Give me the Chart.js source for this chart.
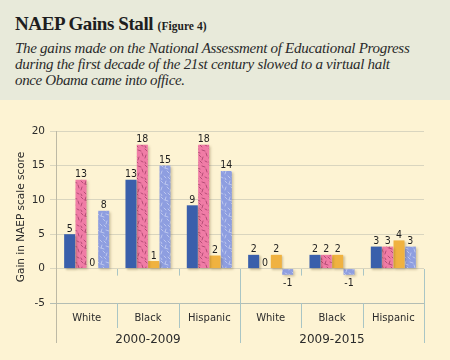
<!DOCTYPE html>
<html><head><meta charset="utf-8">
<script src="https://cdn.jsdelivr.net/npm/chart.js@4.4.0/dist/chart.umd.min.js"></script>
<style>
html,body{margin:0;padding:0;}
body{width:450px;height:360px;background:#fdf3d3;position:relative;overflow:hidden;}
#hdr{position:absolute;left:0;top:0;width:450px;height:100px;background:#e8eada;}
.t{position:absolute;left:15px;white-space:nowrap;color:#1e1e1e;line-height:1;font-family:"Liberation Serif",serif;}
.sub{font-style:italic;color:#2a2a2a;}
#wrap{position:absolute;left:0;top:100px;width:450px;height:260px;}
</style></head><body>
<div id="hdr">
  <div class="t" id="ttl"><span id="t1" style="font-weight:bold">NAEP Gains Stall </span><span id="t2" style="font-weight:bold">(Figure 4)</span></div>
  <div class="t sub" id="s1">The gains made on the National Assessment of Educational Progress</div>
  <div class="t sub" id="s2">during the first decade of the 21st century slowed to a virtual halt</div>
  <div class="t sub" id="s3">once Obama came into office.</div>
</div>
<div id="wrap"><canvas id="c" width="450" height="260"></canvas></div>
<script>
// ---- data ----
const categories = ['White', 'Black', 'Hispanic', 'White', 'Black', 'Hispanic'];
const periods = ['2000-2009', '2009-2015'];
const seriesBlue   = [5, 12.9, 9.2, 2, 2, 3.2];
const seriesPink   = [12.9, 18, 18, 0, 2, 3.2];
const seriesOrange = [0, 1.1, 1.9, 2, 2, 4.1];
const seriesPurple = [8.4, 15, 14.2, -0.9, -0.9, 3.2];
const yMin = -5, yMax = 20, yStep = 5;
const yTitle = 'Gain in NAEP scale score';

// ---- header text fitting ----
const mctx = document.createElement('canvas').getContext('2d');
function fitLine(el, style, size, target, baseline){
  mctx.font = style + ' ' + size + 'px "Liberation Serif"';
  const txt = el.textContent;
  const w = mctx.measureText(txt).width;
  const ls = (target - w) / (txt.length - 1);
  el.style.fontSize = size + 'px';
  el.style.letterSpacing = ls.toFixed(3) + 'px';
  if (baseline !== undefined) el.style.top = (baseline - 0.8375 * size) + 'px';
}
const t1 = document.getElementById('t1'), t2 = document.getElementById('t2');
fitLine(t1, 'bold', 19, 144);
fitLine(t2, 'bold', 11.5, 49);
document.getElementById('ttl').style.top = (30 - 0.8375 * 19) + 'px';
fitLine(document.getElementById('s1'), 'italic', 15, 395, 54);
fitLine(document.getElementById('s2'), 'italic', 15, 375, 70);
fitLine(document.getElementById('s3'), 'italic', 15, 170, 86);

// ---- patterns ----
const segs = [[1,1,3,3],[6,1,5,4],[10,2,13,3],[14,5,15,8],[2,7,1,10],[7,7,9,9],[11,9,10,12],[4,12,6,14],[8,13,10,15],[13,13,15,14],[1,14,2,16],[5,4,8,5]];
function makePattern(base, stroke){
  const c = document.createElement('canvas'); c.width = 16; c.height = 16;
  const g = c.getContext('2d');
  g.fillStyle = base; g.fillRect(0,0,16,16);
  g.strokeStyle = stroke; g.lineWidth = 0.7; g.lineCap = 'round';
  segs.forEach(s => { g.beginPath(); g.moveTo(s[0], s[1]); g.lineTo(s[2], s[3]); g.stroke(); });
  return g.createPattern(c, 'repeat');
}
const pinkPat = makePattern('#f07ca6', 'rgba(120,30,70,0.7)');
const purplePat = makePattern('#8e9ee0', 'rgba(225,230,250,0.8)');

const labelFont = '10.5px "DejaVu Sans Condensed", "DejaVu Sans", sans-serif';

const decor = {
  id: 'decor',
  beforeDatasetsDraw(chart){
    const {ctx, scales:{x, y}} = chart;
    const n = categories.length;
    const step = x.getPixelForValue(1) - x.getPixelForValue(0);
    const b = k => k < n ? x.getPixelForValue(k) - step/2 : x.getPixelForValue(n-1) + step/2;
    const z = y.getPixelForValue(0), bot = y.bottom, endY = 243;
    const px = v => Math.round(v) + 0.5;
    ctx.save();
    ctx.lineWidth = 1;
    ctx.strokeStyle = '#bdb9a5';
    ctx.beginPath(); ctx.moveTo(px(b(0)), y.top); ctx.lineTo(px(b(0)), endY); ctx.stroke();
    ctx.strokeStyle = '#a9c5c5';
    for (let k = 1; k <= n; k++){
      ctx.beginPath();
      if (k % 3 === 0){
        ctx.moveTo(px(b(k)), Math.round(z)); ctx.lineTo(px(b(k)), endY);
      } else {
        ctx.moveTo(px(b(k)), Math.round(z)); ctx.lineTo(px(b(k)), z + 7);
        ctx.moveTo(px(b(k)), Math.round(bot)); ctx.lineTo(px(b(k)), 228);
      }
      ctx.stroke();
    }
    ctx.fillStyle = '#2b2b2b';
    ctx.font = '12px "DejaVu Sans", sans-serif';
    ctx.textAlign = 'center'; ctx.textBaseline = 'middle';
    periods.forEach((p, i) => ctx.fillText(p, (b(i*3) + b(i*3+3))/2, 240));
    ctx.restore();
    ctx.save();
    ctx.shadowColor = 'rgba(90,70,20,0.28)';
    ctx.shadowOffsetX = 1.5; ctx.shadowOffsetY = 1.5; ctx.shadowBlur = 2;
  },
  afterDatasetsDraw(chart){
    const {ctx} = chart;
    ctx.restore();
    ctx.save();
    ctx.fillStyle = '#1e1e1e';
    ctx.font = labelFont;
    ctx.textAlign = 'center'; ctx.textBaseline = 'alphabetic';
    chart.data.datasets.forEach((ds, di) => {
      const meta = chart.getDatasetMeta(di);
      meta.data.forEach((bar, i) => {
        const v = ds.data[i];
        const t = String(Math.round(v));
        if (v >= 0) ctx.fillText(t, bar.x, bar.y - 2.5);
        else ctx.fillText(t, bar.x, bar.y + 11.5);
      });
    });
    ctx.restore();
  }
};

new Chart(document.getElementById('c'), {
  type: 'bar',
  data: {
    labels: categories,
    datasets: [
      {label: 'Series 1', data: seriesBlue, backgroundColor: '#3a5fab'},
      {label: 'Series 2', data: seriesPink, backgroundColor: pinkPat},
      {label: 'Series 3', data: seriesOrange, backgroundColor: '#f0b240'},
      {label: 'Series 4', data: seriesPurple, backgroundColor: purplePat}
    ]
  },
  options: {
    responsive: false,
    animation: false,
    events: [],
    layout: {padding: {top: 31, right: 26, left: 0, bottom: 0}},
    datasets: {bar: {categoryPercentage: 0.74, barPercentage: 0.97, borderWidth: 0}},
    plugins: {legend: {display: false}, tooltip: {enabled: false}, title: {display: false}},
    scales: {
      x: {
        grid: {display: false, drawTicks: false},
        border: {display: false},
        ticks: {color: '#2b2b2b', font: {family: '"DejaVu Sans", sans-serif', size: 10}, padding: 9, maxRotation: 0, autoSkip: false},
        afterFit: s => { s.height = 57; }
      },
      y: {
        min: yMin, max: yMax,
        ticks: {stepSize: yStep, color: '#2b2b2b', font: {family: '"DejaVu Sans", sans-serif', size: 10.5}, padding: 5},
        grid: {color: c => (c.tick && c.tick.value === yMin) ? '#b3bdb4' : '#d9d5bf', tickLength: 6, lineWidth: 1},
        border: {display: false},
        title: {display: true, text: yTitle, color: '#2b2b2b', font: {family: '"DejaVu Sans", sans-serif', size: 10.5}, padding: {top: 15, bottom: 0}},
        afterFit: s => { s.width = 56; }
      }
    }
  },
  plugins: [decor]
});
</script>
</body></html>
